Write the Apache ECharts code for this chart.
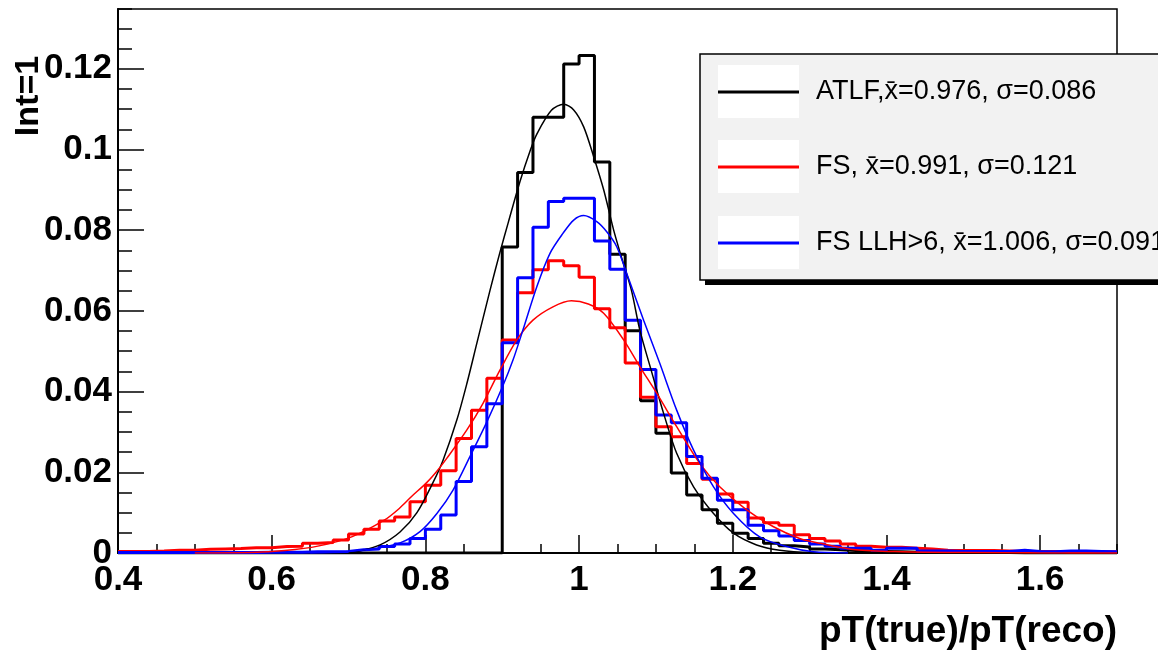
<!DOCTYPE html>
<html>
<head>
<meta charset="utf-8">
<script src="https://cdn.jsdelivr.net/npm/echarts@6/dist/echarts.min.js"></script>
<style>
html,body{margin:0;padding:0;background:#fff;}
#c{width:1158px;height:653px;}
</style>
</head>
<body>
<div id="c"></div>
<script>
// ---- Data ----
const BIN_LOW = 0.4;
const BIN_WIDTH = 0.02;
const X_MIN = 0.4, X_MAX = 1.7;
const Y_MIN = 0, Y_MAX = 0.1348;

// histogram contents, bins 0.40-0.42 ... 1.68-1.70
const atlfHist = [
  0,0,0,0,0,0,0,0,0,0,0,0,0,0,0,0,0,0,0,0,0,0,0,0,0,
  0.0758,0.0943,0.1080,0.1080,0.1212,0.1233,0.0969,0.0740,0.0551,0.0377,
  0.0297,0.0198,0.0144,0.0107,0.0074,0.0049,0.0036,0.0024,0.0018,0.0015,
  0.0010,0.0008,0.0006,0.0005,0.0004,0.0003,0.0002,0.0002,0.0001,0.0001,
  0.0001,0.0001,0.0001,0,0,0,0,0,0,0
];
const fsHist = [
  0.0004,0.0004,0.0005,0.0007,0.0007,0.0009,0.0010,0.0011,0.0013,0.0013,
  0.0016,0.0017,0.0024,0.0026,0.0032,0.0047,0.0059,0.0079,0.0089,0.0127,
  0.0168,0.0204,0.0284,0.0354,0.0433,0.0528,0.0645,0.0702,0.0724,0.0712,
  0.0683,0.0605,0.0558,0.0471,0.0386,0.0313,0.0288,0.0222,0.0183,0.0146,
  0.0126,0.0087,0.0075,0.0069,0.0045,0.0036,0.0030,0.0022,0.0017,0.0014,
  0.0014,0.0012,0.0010,0.0007,0.0006,0.0006,0.0006,0.0005,0.0004,0.0004,
  0.0004,0.0003,0.0003,0.0003,0.0003
];
const fsLlhHist = [
  0.0001,0.0001,0.0001,0.0001,0.0001,0.0001,0.0001,0.0001,0.0001,0.0002,
  0.0002,0.0002,0.0003,0.0003,0.0004,0.0008,0.0010,0.0016,0.0022,0.0036,
  0.0059,0.0094,0.0177,0.0263,0.0370,0.0521,0.0682,0.0807,0.0871,0.0879,
  0.0879,0.0773,0.0703,0.0577,0.0455,0.0342,0.0323,0.0239,0.0185,0.0131,
  0.0107,0.0069,0.0055,0.0042,0.0031,0.0022,0.0017,0.0012,0.0012,0.0007,
  0.0012,0.0012,0.0005,0.0005,0.0004,0.0004,0.0004,0.0004,0.0007,0.0004,
  0.0003,0.0005,0.0005,0.0004,0.0003
];

// fitted curves, points [x, y]
const atlfFit = [
  [0.700,0.0000],[0.711,0.0003],[0.741,0.0020],[0.767,0.0052],[0.789,0.0100],
  [0.810,0.0175],[0.823,0.0230],[0.841,0.0330],[0.854,0.0420],[0.867,0.0520],
  [0.884,0.0650],[0.897,0.0745],[0.908,0.0820],[0.923,0.0920],[0.936,0.0995],
  [0.945,0.1038],[0.964,0.1097],[0.980,0.1112],[0.993,0.1098],[1.006,0.1056],
  [1.019,0.0982],[1.032,0.0900],[1.045,0.0800],[1.055,0.0734],[1.068,0.0652],
  [1.079,0.0553],[1.095,0.0445],[1.110,0.0346],[1.127,0.0247],[1.149,0.0164],
  [1.175,0.0098],[1.201,0.0049],[1.231,0.0020],[1.261,0.0007],[1.304,0.0001],
  [1.350,0.0000]
];
const fsFit = [
  [0.500,0.0000],[0.574,0.0001],[0.617,0.0006],[0.660,0.0017],[0.704,0.0040],
  [0.747,0.0082],[0.767,0.0112],[0.782,0.0140],[0.802,0.0175],[0.816,0.0205],
  [0.828,0.0235],[0.854,0.0305],[0.875,0.0371],[0.897,0.0453],[0.919,0.0528],
  [0.940,0.0577],[0.966,0.0610],[0.990,0.0625],[1.012,0.0617],[1.032,0.0594],
  [1.058,0.0528],[1.079,0.0462],[1.101,0.0396],[1.127,0.0313],[1.157,0.0222],
  [1.183,0.0164],[1.218,0.0107],[1.253,0.0065],[1.287,0.0036],[1.314,0.0024],
  [1.360,0.0008],[1.420,0.0003],[1.500,0.0001],[1.600,0.0000],[1.700,0.0000]
];
const fsLlhFit = [
  [0.650,0.0000],[0.700,0.0004],[0.737,0.0012],[0.767,0.0025],[0.793,0.0053],
  [0.815,0.0098],[0.836,0.0156],[0.858,0.0239],[0.880,0.0325],[0.901,0.0415],
  [0.914,0.0478],[0.927,0.0553],[0.945,0.0660],[0.962,0.0742],[0.979,0.0792],
  [0.993,0.0825],[1.006,0.0836],[1.023,0.0821],[1.036,0.0796],[1.049,0.0759],
  [1.065,0.0677],[1.084,0.0577],[1.105,0.0470],[1.127,0.0354],[1.149,0.0255],
  [1.175,0.0164],[1.201,0.0098],[1.235,0.0040],[1.270,0.0016],[1.305,0.0003],
  [1.350,0.0000]
];

const seriesNames = ['ATLF', 'FS', 'FS LLH>6'];
const legendLabels = [
  'ATLF,x\u0304=0.976, \u03C3=0.086',
  'FS, x\u0304=0.991, \u03C3=0.121',
  'FS LLH>6, x\u0304=1.006, \u03C3=0.091'
];
const colors = ['#000000', '#ff0000', '#0000ff'];
const xTitle = 'pT(true)/pT(reco)';
const yTitle = 'Int=1';

// ---- build step data ----
function histData(vals) {
  const d = [];
  for (let i = 0; i < vals.length; i++) d.push([+(BIN_LOW + i * BIN_WIDTH).toFixed(4), vals[i]]);
  d.push([+(BIN_LOW + vals.length * BIN_WIDTH).toFixed(4), vals[vals.length - 1]]);
  return d;
}

const chart = echarts.init(document.getElementById('c'), null, {renderer: 'canvas'});
const FONT = '"Liberation Sans", Arial, Helvetica, sans-serif';
const labelStyle = {color: '#000', fontFamily: FONT, fontWeight: 'bold', fontSize: 35};

const hists = [atlfHist, fsHist, fsLlhHist];
const fits = [atlfFit, fsFit, fsLlhFit];
const series = [];
hists.forEach((h, i) => {
  series.push({
    name: seriesNames[i], type: 'line', step: 'end', data: histData(h),
    symbol: 'none', lineStyle: {color: colors[i], width: 3}, z: 2 + i, animation: false
  });
});
fits.forEach((f, i) => {
  series.push({
    name: seriesNames[i] + ' fit', type: 'line', smooth: 0.3, data: f,
    symbol: 'none', lineStyle: {color: colors[i], width: 1.5}, z: 6 + i, animation: false
  });
});

const L = {x: 700, y: 54, w: 480, h: 226};
const graphic = [
  {type: 'rect', shape: {x: L.x + 5, y: L.y + 5, width: L.w, height: L.h}, style: {fill: '#000'}, z: 100},
  {type: 'rect', shape: {x: L.x, y: L.y, width: L.w, height: L.h}, style: {fill: '#f2f2f2', stroke: '#000', lineWidth: 1.5}, z: 101},
];
const rowY = [92, 167, 243];
rowY.forEach((yy, i) => {
  graphic.push({type: 'rect', shape: {x: 718, y: yy - 27, width: 81, height: 53}, style: {fill: '#fff'}, z: 102});
  graphic.push({type: 'line', shape: {x1: 718, y1: yy, x2: 799, y2: yy}, style: {stroke: colors[i], lineWidth: 3}, z: 103});
  graphic.push({type: 'text', x: 816, y: yy, style: {text: legendLabels[i], fill: '#000', font: '27px ' + FONT, textVerticalAlign: 'middle', textAlign: 'left'}, z: 103});
});
graphic.push({type: 'text', x: 1117, y: 632, style: {text: xTitle, fill: '#000', font: 'bold 37px ' + FONT, textAlign: 'right', textVerticalAlign: 'middle'}, z: 103});
graphic.push({type: 'text', x: 29, y: 96, rotation: Math.PI / 2, style: {text: yTitle, fill: '#000', font: 'bold 34px ' + FONT, textAlign: 'center', textVerticalAlign: 'middle'}, z: 103});

chart.setOption({
  animation: false,
  backgroundColor: '#fff',
  grid: {left: 118, right: 41, top: 9, bottom: 100, show: true, borderColor: '#000', borderWidth: 1.5, backgroundColor: 'transparent'},
  xAxis: [
    {type: 'value', min: X_MIN, max: X_MAX, interval: 0.2, position: 'bottom',
     axisLine: {show: true, onZero: false, lineStyle: {color: '#000', width: 2}},
     axisTick: {show: true, inside: true, length: 18, lineStyle: {color: '#000', width: 1.5}},
     axisLabel: Object.assign({margin: 10, showMaxLabel: false, showMinLabel: true}, labelStyle),
     splitLine: {show: false}},
    {type: 'value', min: X_MIN, max: X_MAX, interval: 0.05, position: 'bottom',
     axisLine: {show: false},
     axisTick: {show: true, inside: true, length: 9, lineStyle: {color: '#000', width: 1.5}},
     axisLabel: {show: false}, splitLine: {show: false}}
  ],
  yAxis: [
    {type: 'value', min: Y_MIN, max: Y_MAX, interval: 0.02, position: 'left',
     axisLine: {show: true, onZero: false, lineStyle: {color: '#000', width: 2}},
     axisTick: {show: true, inside: true, length: 26, lineStyle: {color: '#000', width: 1.5}},
     axisLabel: Object.assign({margin: 6, showMaxLabel: false}, labelStyle),
     splitLine: {show: false}},
    {type: 'value', min: Y_MIN, max: Y_MAX, interval: 0.005, position: 'left',
     axisLine: {show: false},
     axisTick: {show: true, inside: true, length: 14, lineStyle: {color: '#000', width: 1.5}},
     axisLabel: {show: false}, splitLine: {show: false}}
  ],
  series: series,
  graphic: graphic
});
</script>
</body>
</html>
